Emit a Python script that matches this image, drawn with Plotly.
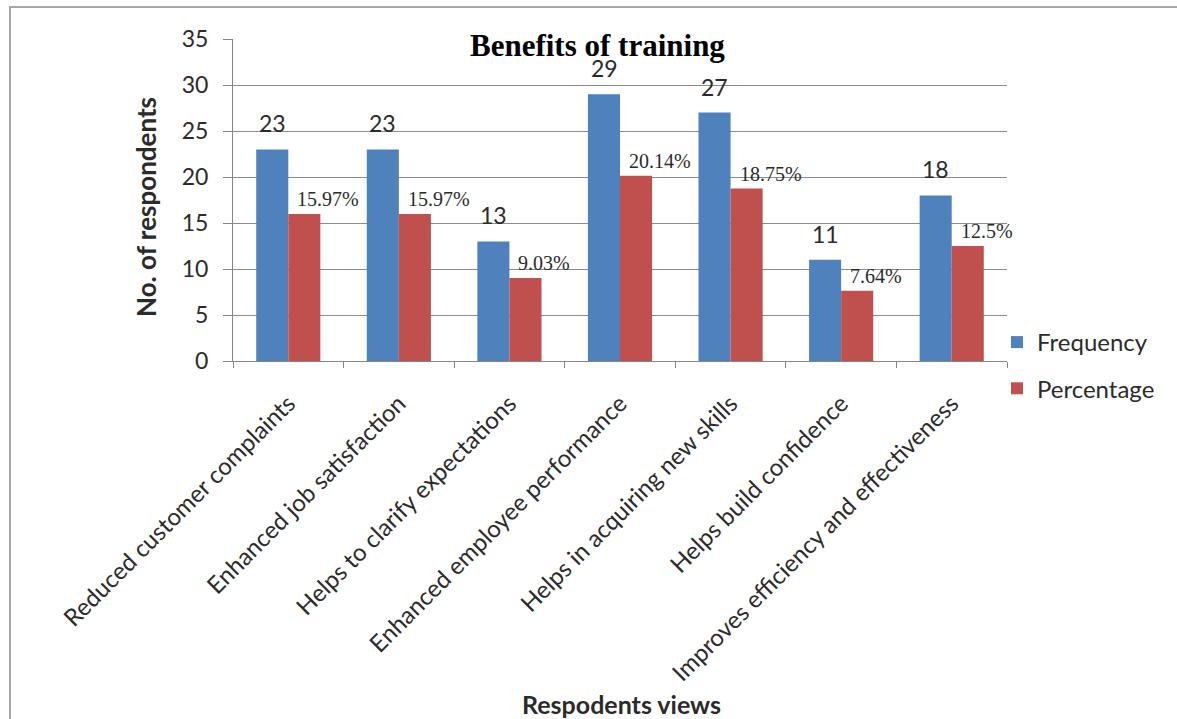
import plotly.graph_objects as go

categories = [
    "Reduced customer complaints",
    "Enhanced job satisfaction",
    "Helps to clarify expectations",
    "Enhanced employee performance",
    "Helps in acquiring new skills",
    "Helps build confidence",
    "Improves efficiency and effectiveness",
]
frequency = [23, 23, 13, 29, 27, 11, 18]
percentage = [15.97, 15.97, 9.03, 20.14, 18.75, 7.64, 12.5]
y_ticks = [0, 5, 10, 15, 20, 25, 30, 35]

BLUE = "#4F81BD"
RED = "#C0504D"
SANS = "Lato, 'Liberation Sans', sans-serif"
SERIF = "'Liberation Serif', 'DejaVu Serif', serif"
TXT = "#2b2b2b"

W, H = 1177, 719
L, R, T, B = 233, 170, 39, 358
pw, ph = W - L - R, H - T - B


def px_x(x):
    return (x - L) / pw


def px_y(y):
    return (H - B - y) / ph


fig = go.Figure()
fig.add_trace(go.Bar(x=categories, y=frequency, name="Frequency",
                     marker=dict(color=BLUE, line=dict(width=0)),
                     legendgroup="f"))
fig.add_trace(go.Bar(x=categories, y=percentage, name="Percentage",
                     marker=dict(color=RED, line=dict(width=0)),
                     legendgroup="p"))

annotations = []
# value labels above the frequency bars
for c, v in zip(categories, frequency):
    annotations.append(dict(x=c, y=v, xref="x", yref="y", text=str(v),
                            showarrow=False, xshift=-16, yshift=26,
                            yanchor="middle", xanchor="center",
                            font=dict(family=SANS, size=23, color=TXT)))
# percentage labels, offset to the right of the percentage bars
for c, v in zip(categories, percentage):
    annotations.append(dict(x=c, y=v, xref="x", yref="y", text=f"{v:g}%",
                            showarrow=False, xshift=7, yshift=15,
                            yanchor="middle", xanchor="left",
                            font=dict(family=SERIF, size=20, color=TXT)))

annotations.append(dict(x=px_x(597), y=px_y(45), xref="paper", yref="paper",
                        text="<b>Benefits of training</b>", showarrow=False,
                        xanchor="center", yanchor="middle",
                        font=dict(family=SERIF, size=31, color="#000")))
annotations.append(dict(x=px_x(146), y=px_y(207), xref="paper", yref="paper",
                        text="<b>No. of respondents</b>", showarrow=False,
                        textangle=-90, xanchor="center", yanchor="middle",
                        font=dict(family=SANS, size=26, color=TXT)))
annotations.append(dict(x=px_x(621), y=px_y(704), xref="paper", yref="paper",
                        text="<b>Respodents views</b>", showarrow=False,
                        xanchor="center", yanchor="middle",
                        font=dict(family=SANS, size=25, color=TXT)))

shapes = [dict(type="rect", xref="paper", yref="paper",
               x0=px_x(10), x1=px_x(1190), y0=px_y(7), y1=px_y(730),
               line=dict(color="#A6A6A6", width=2), layer="below")]

fig.update_layout(
    width=W, height=H,
    margin=dict(l=L, r=R, t=T, b=B, autoexpand=False),
    paper_bgcolor="white", plot_bgcolor="white",
    barmode="group", bargap=0.42, bargroupgap=0,
    showlegend=True,
    legend=dict(x=px_x(997), y=px_y(320), xanchor="left", yanchor="top",
                font=dict(family=SANS, size=24, color=TXT),
                tracegroupgap=12, bgcolor="rgba(0,0,0,0)"),
    annotations=annotations,
    shapes=shapes,
    xaxis=dict(tickangle=-45, tickfont=dict(family=SANS, size=24, color=TXT),
               range=[-0.5, len(categories) - 0.5], automargin=False,
               showline=True, linecolor="#868686", linewidth=1,
               ticks="outside", tickson="boundaries", ticklen=6,
               tickcolor="#868686", ticklabelstandoff=18, showgrid=False),
    yaxis=dict(range=[0, 35], tickvals=y_ticks, automargin=False,
               tickfont=dict(family=SANS, size=23, color=TXT),
               showline=True, linecolor="#868686", linewidth=1,
               ticks="outside", ticklen=9, tickcolor="#868686",
               ticklabelstandoff=10,
               showgrid=True, gridcolor="#8C8C8C", gridwidth=1,
               zeroline=False),
)

fig.write_html("out.html")
